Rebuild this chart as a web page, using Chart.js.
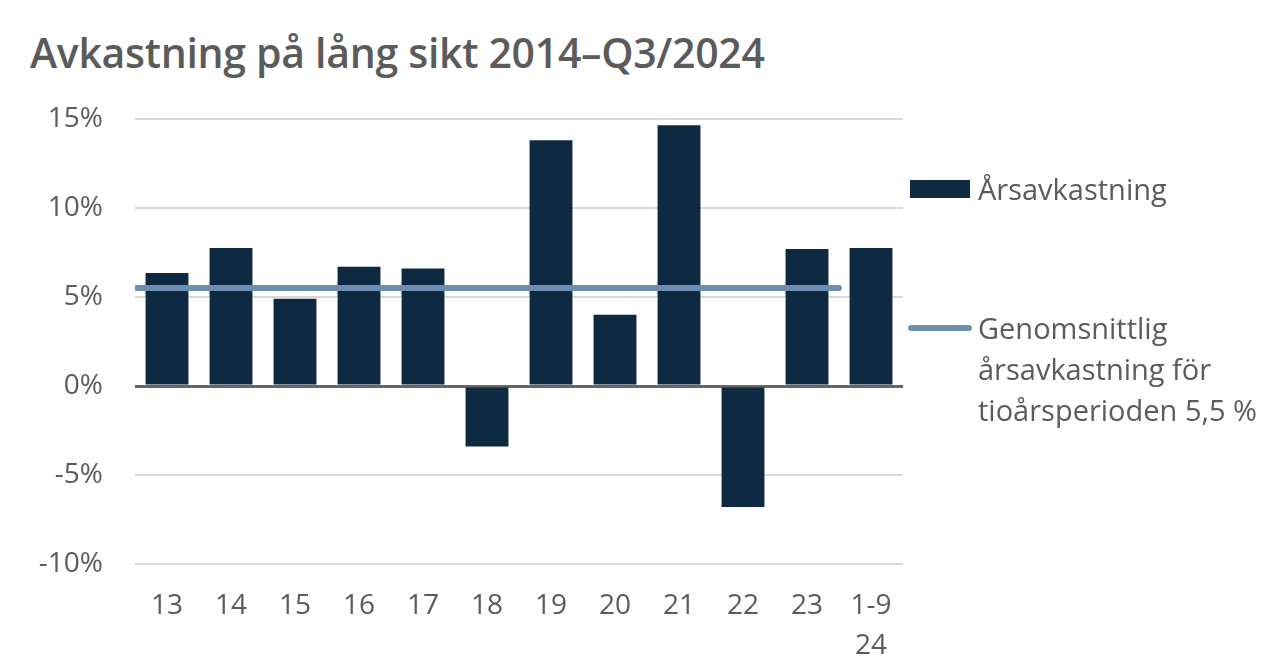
<!DOCTYPE html>
<html lang="sv">
<head>
  <meta charset="UTF-8" />
  <title>Avkastning på lång sikt 2014–Q3/2024</title>
  <style>
    body {
      margin: 0;
      background: #fff;
      font-family: 'Open Sans', sans-serif;
      color: #5b5b5b;
    }
    #wrap {
      position: relative;
      width: 1288px;
      height: 672px;
    }
    h1 {
      position: absolute;
      left: 30px;
      top: 32px;
      margin: 0;
      font-size: 41px;
      font-weight: 600;
      line-height: 41px;
      letter-spacing: -0.3px;
      color: #5b5b5b;
      white-space: nowrap;
    }
    #chartBox {
      position: absolute;
      left: 0;
      top: 0;
      width: 1288px;
      height: 672px;
    }
    .legend {
      position: absolute;
      left: 908px;
      font-size: 29px;
      line-height: 41px;
    }
    .legend .sym {
      position: absolute;
      left: 0;
    }
    .legend .txt {
      position: absolute;
      left: 70px;
      white-space: nowrap;
    }
    #leg1 { top: 168px; }
    #leg1 .sym { width: 60px; height: 18px; top: 12px; left: 2px; background: #0d2a42; }
    #leg2 { top: 307px; }
    #leg2 .sym { width: 64px; height: 6px; top: 18px; border-radius: 3px; background: #6f8fb3; }
  </style>
</head>
<body>
<div id="wrap">
  <h1>Avkastning på lång sikt 2014–Q3/2024</h1>
  <div id="chartBox"><canvas id="returnsChart"></canvas></div>
  <div class="legend" id="leg1"><div class="sym"></div><div class="txt">Årsavkastning</div></div>
  <div class="legend" id="leg2"><div class="sym"></div><div class="txt">Genomsnittlig<br>årsavkastning för<br>tioårsperioden 5,5 %</div></div>
</div>

<script src="https://cdn.jsdelivr.net/npm/chart.js"></script>
<script>
  // Years on the x axis (last one is Jan-Sep 2024)
  const years = ['13', '14', '15', '16', '17', '18', '19', '20', '21', '22', '23', ['1-9', '24']];
  // Annual return in percent
  const annualReturn = [6.35, 7.75, 4.9, 6.7, 6.6, -3.4, 13.8, 4.0, 14.65, -6.8, 7.7, 7.75];
  // Ten-year average, drawn from the start of the first year to the end of 2023
  const avgReturn = 5.5;
  const avgFrom = 0;
  const avgTo = 11;
  const yTicks = [-10, -5, 0, 5, 10, 15];

  const textGrey = '#5b5b5b';

  const ctx = document.getElementById('returnsChart').getContext('2d');
  new Chart(ctx, {
    type: 'bar',
    data: {
      labels: years,
      datasets: [{
        label: 'Årsavkastning',
        data: annualReturn,
        backgroundColor: '#0d2a42',
        barPercentage: 0.67,
        categoryPercentage: 1,
        grouped: false,
        order: 2
      }, {
        type: 'line',
        label: 'Genomsnittlig årsavkastning för tioårsperioden 5,5 %',
        data: [{ x: avgFrom, y: avgReturn }, { x: avgTo, y: avgReturn }],
        xAxisID: 'xLine',
        borderColor: '#6f8fb3',
        borderWidth: 6,
        borderCapStyle: 'round',
        pointRadius: 0,
        fill: false,
        order: 1
      }]
    },
    options: {
      responsive: true,
      maintainAspectRatio: false,
      animation: false,
      layout: { padding: { top: 119, right: 385, left: 0, bottom: 0 } },
      plugins: {
        legend: { display: false },
        tooltip: { enabled: false }
      },
      scales: {
        x: {
          grid: { display: false },
          border: { display: false },
          ticks: {
            color: textGrey,
            font: { family: 'Open Sans', size: 28, lineHeight: '40px' },
            padding: 14,
            maxRotation: 0,
            autoSkip: false
          },
          afterFit: (scale) => { scale.height = 108; }
        },
        xLine: {
          type: 'linear',
          display: false,
          offset: false,
          grid: { offset: false },
          min: 0,
          max: years.length
        },
        y: {
          min: yTicks[0],
          max: yTicks[yTicks.length - 1],
          afterBuildTicks: (scale) => { scale.ticks = yTicks.map(v => ({ value: v })); },
          border: { display: false },
          grid: {
            color: (c) => c.tick.value === 0 ? '#666666' : '#d9d9d9',
            lineWidth: (c) => c.tick.value === 0 ? 3 : 2,
            drawTicks: false
          },
          ticks: {
            color: textGrey,
            font: { family: 'Open Sans', size: 28 },
            padding: 32,
            callback: (v) => v + '%'
          },
          afterFit: (scale) => { scale.width = 135; }
        }
      }
    }
  });
</script>
</body>
</html>
